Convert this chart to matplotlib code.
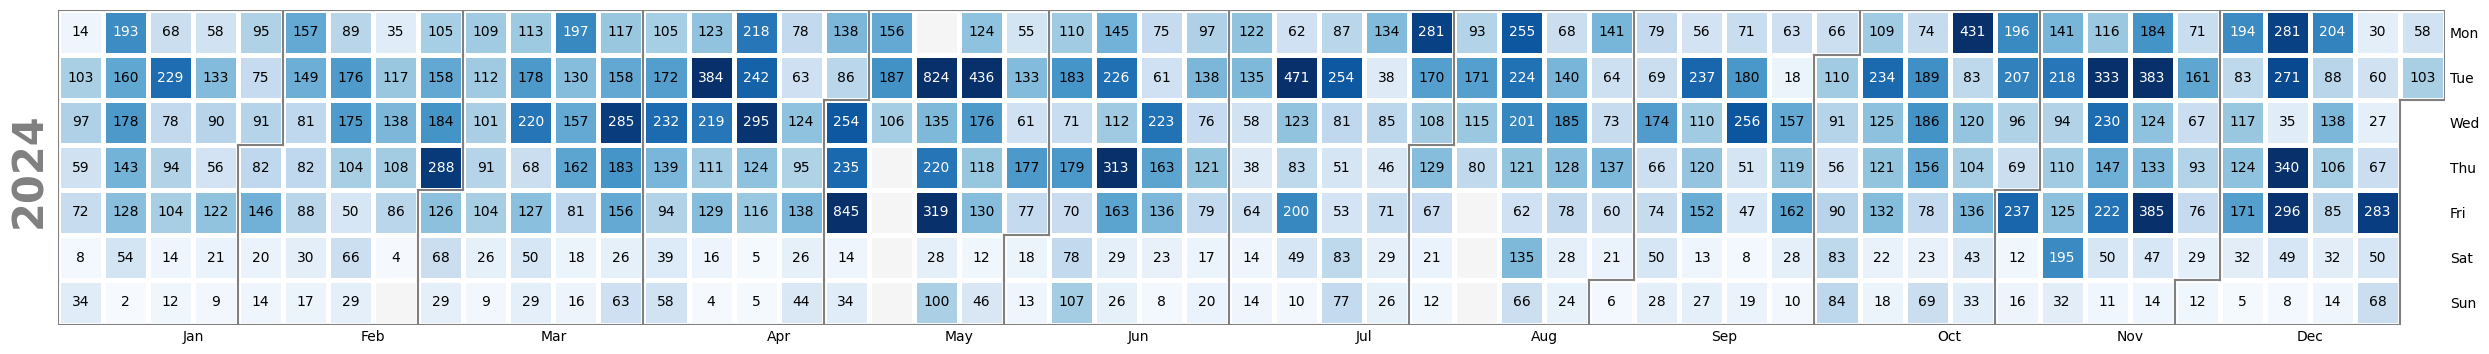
import datetime
import numpy as np
import matplotlib
matplotlib.use("Agg")
import matplotlib.pyplot as plt
from matplotlib.collections import LineCollection

year = 2024
day_labels = ["Mon", "Tue", "Wed", "Thu", "Fri", "Sat", "Sun"]
month_labels = ["Jan", "Feb", "Mar", "Apr", "May", "Jun",
                "Jul", "Aug", "Sep", "Oct", "Nov", "Dec"]

# values per weekday, one entry per week column (None = no data)
mon = [14, 193, 68, 58, 95, 157, 89, 35, 105, 109, 113, 197, 117, 105, 123, 218, 78, 138,
       156, None, 124, 55, 110, 145, 75, 97, 122, 62, 87, 134, 281, 93, 255, 68, 141, 79,
       56, 71, 63, 66, 109, 74, 431, 196, 141, 116, 184, 71, 194, 281, 204, 30, 58]
tue = [103, 160, 229, 133, 75, 149, 176, 117, 158, 112, 178, 130, 158, 172, 384, 242, 63, 86,
       187, 824, 436, 133, 183, 226, 61, 138, 135, 471, 254, 38, 170, 171, 224, 140, 64, 69,
       237, 180, 18, 110, 234, 189, 83, 207, 218, 333, 383, 161, 83, 271, 88, 60, 103]
wed = [97, 178, 78, 90, 91, 81, 175, 138, 184, 101, 220, 157, 285, 232, 219, 295, 124, 254,
       106, 135, 176, 61, 71, 112, 223, 76, 58, 123, 81, 85, 108, 115, 201, 185, 73, 174,
       110, 256, 157, 91, 125, 186, 120, 96, 94, 230, 124, 67, 117, 35, 138, 27]
thu = [59, 143, 94, 56, 82, 82, 104, 108, 288, 91, 68, 162, 183, 139, 111, 124, 95, 235,
       None, 220, 118, 177, 179, 313, 163, 121, 38, 83, 51, 46, 129, 80, 121, 128, 137, 66,
       120, 51, 119, 56, 121, 156, 104, 69, 110, 147, 133, 93, 124, 340, 106, 67]
fri = [72, 128, 104, 122, 146, 88, 50, 86, 126, 104, 127, 81, 156, 94, 129, 116, 138, 845,
       None, 319, 130, 77, 70, 163, 136, 79, 64, 200, 53, 71, 67, None, 62, 78, 60, 74,
       152, 47, 162, 90, 132, 78, 136, 237, 125, 222, 385, 76, 171, 296, 85, 283]
sat = [8, 54, 14, 21, 20, 30, 66, 4, 68, 26, 50, 18, 26, 39, 16, 5, 26, 14,
       None, 28, 12, 18, 78, 29, 23, 17, 14, 49, 83, 29, 21, None, 135, 28, 21, 50,
       13, 8, 28, 83, 22, 23, 43, 12, 195, 50, 47, 29, 32, 49, 32, 50]
sun = [34, 2, 12, 9, 14, 17, 29, None, 29, 9, 29, 16, 63, 58, 4, 5, 44, 34,
       None, 100, 46, 13, 107, 26, 8, 20, 14, 10, 77, 26, 12, None, 66, 24, 6, 28,
       27, 19, 10, 84, 18, 69, 33, 16, 32, 11, 14, 12, 5, 8, 14, 68]

rows = [mon, tue, wed, thu, fri, sat, sun]
n_weeks = 53
vmin, vmax = 0, 300

# month index for each cell (0 = outside the year)
start = datetime.date(year, 1, 1)
month_grid = np.zeros((7, n_weeks), dtype=int)
for w in range(n_weeks):
    for d in range(7):
        day = start + datetime.timedelta(days=7 * w + d - start.weekday())
        if day.year == year:
            month_grid[d, w] = day.month

data = np.full((7, n_weeks), np.nan)
for d, r in enumerate(rows):
    for w, v in enumerate(r):
        if v is not None:
            data[d, w] = v

fig = plt.figure(figsize=(24.89, 3.54), dpi=100)
ax = fig.add_axes([58 / 2489, 29 / 354, 2387 / 2489, 315 / 354])

xe = np.arange(n_weeks + 1)
ye = np.arange(8)

# background for days inside the year
fill = np.ma.masked_where(month_grid == 0, np.ones((7, n_weeks)))
ax.pcolormesh(xe, ye, fill, cmap=matplotlib.colors.ListedColormap(["whitesmoke"]),
              edgecolors="white", linewidth=2.3)

cmap = plt.get_cmap("Blues")
norm = plt.Normalize(vmin, vmax)
ax.pcolormesh(xe, ye, np.ma.masked_invalid(data), cmap=cmap, norm=norm,
              edgecolors="white", linewidth=2.3)

for d in range(7):
    for w in range(n_weeks):
        v = data[d, w]
        if np.isnan(v):
            continue
        col = "white" if norm(v) > 0.63 else "black"
        ax.text(w + 0.5, d + 0.5, f"{int(v)}", ha="center", va="center",
                fontsize=10, color=col)

# month borders
segs = []
padded = np.pad(month_grid, 1)
for d in range(8):
    for w in range(n_weeks):
        a, b = padded[d, w + 1], padded[d + 1, w + 1]
        if a != b:
            segs.append([(w, d), (w + 1, d)])
for d in range(7):
    for w in range(n_weeks + 1):
        a, b = padded[d + 1, w], padded[d + 1, w + 1]
        if a != b:
            segs.append([(w, d), (w, d + 1)])
ax.add_collection(LineCollection(segs, colors="gray", linewidths=1.5, capstyle="projecting"))

ax.set_xlim(0, n_weeks)
ax.set_ylim(7, 0)
for s in ax.spines.values():
    s.set_visible(False)

xticks = [datetime.date(year, m, 15).isocalendar()[1] for m in range(1, 13)]
ax.set_xticks(xticks)
ax.set_xticklabels(month_labels, fontsize=10)
ax.set_yticks(np.arange(7) + 0.5)
ax.set_yticklabels(day_labels, fontsize=10)
ax.yaxis.tick_right()
ax.tick_params(length=0)
for t in ax.get_yticklabels():
    t.set_horizontalalignment("left")

fig.text(29 / 2489, 1 - 170 / 354, str(year), rotation=90, fontsize=30,
         fontweight="bold", color="gray", ha="center", va="center")

fig.savefig("out.png", dpi=100)
